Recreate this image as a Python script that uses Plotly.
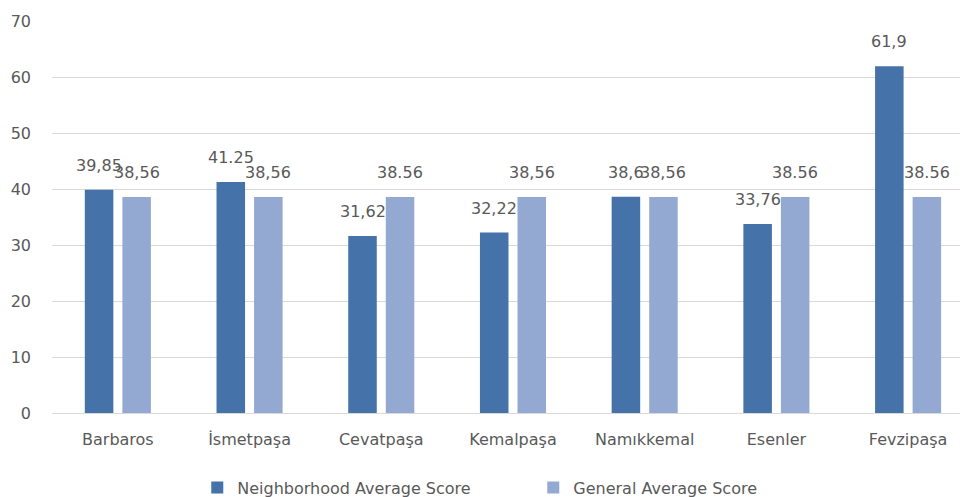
import plotly.graph_objects as go

categories = ["Barbaros", "İsmetpaşa", "Cevatpaşa", "Kemalpaşa", "Namıkkemal", "Esenler", "Fevzipaşa"]
neighborhood = [39.85, 41.25, 31.62, 32.22, 38.6, 33.76, 61.9]
general = [38.56, 38.56, 38.56, 38.56, 38.56, 38.56, 38.56]
neighborhood_labels = ["39,85", "41.25", "31,62", "32,22", "38,6", "33,76", "61,9"]
general_labels = ["38,56", "38,56", "38.56", "38,56", "38,56", "38.56", "38.56"]
y_ticks = [0, 10, 20, 30, 40, 50, 60, 70]

DARK = "#4572A8"
LIGHT = "#94A9D2"
TXT = "#595959"
FONT = "DejaVu Sans"

fig = go.Figure()
fig.add_trace(go.Bar(name="Neighborhood Average Score", x=categories, y=neighborhood,
                     marker=dict(color=DARK, line=dict(width=0))))
fig.add_trace(go.Bar(name="General Average Score", x=categories, y=general,
                     marker=dict(color=LIGHT, line=dict(width=0))))

annotations = []
for labels, values, shift in ((neighborhood_labels, neighborhood, -18.75), (general_labels, general, 18.75)):
    for c, v, t in zip(categories, values, labels):
        annotations.append(dict(x=c, y=v, text=t, showarrow=False, xref="x", yref="y",
                                xshift=shift, yshift=13, yanchor="bottom", xanchor="center",
                                font=dict(family=FONT, size=16, color=TXT)))

fig.update_layout(
    width=963, height=497,
    margin=dict(l=52, r=3, t=21, b=84, autoexpand=False),
    paper_bgcolor="white", plot_bgcolor="white",
    barmode="group", bargap=0.43, bargroupgap=0.24,
    font=dict(family=FONT, size=16, color=TXT),
    annotations=annotations,
    showlegend=True,
    legend=dict(orientation="h", x=0.16, xanchor="left", y=-0.19, yanchor="middle",
                font=dict(family=FONT, size=16, color=TXT),
                entrywidth=291, entrywidthmode="pixels", itemclick=False),
    xaxis=dict(type="category", range=[-0.5, 6.394], showgrid=False, showline=True,
               linecolor="#D9D9D9", linewidth=1, ticks="", ticklen=0, automargin=False,
               ticklabelstandoff=12,
               tickfont=dict(family=FONT, size=16, color=TXT)),
    yaxis=dict(range=[0, 70], tickvals=y_ticks, showgrid=True, gridcolor="#D9D9D9",
               gridwidth=1, zeroline=False, showline=False, ticks="", ticklabelstandoff=20,
               automargin=False,
               tickfont=dict(family=FONT, size=16, color=TXT)),
)

fig.write_html("out.html")
